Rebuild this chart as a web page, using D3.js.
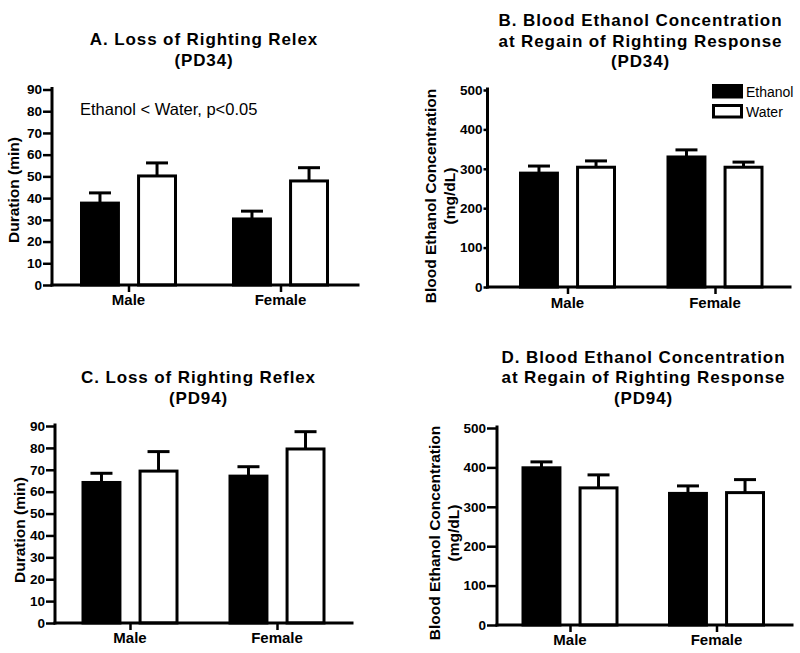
<!DOCTYPE html>
<html>
<head>
<meta charset="utf-8">
<script src="https://cdn.jsdelivr.net/npm/d3@7"></script>
<style>
  html, body { margin: 0; padding: 0; background: #fff; }
  svg { display: block; font-family: "Liberation Sans", Arial, sans-serif; }
</style>
</head>
<body>
<svg id="chart" width="800" height="653"></svg>
<script>
// ---------------- data ----------------
const categories = ["Male", "Female"];
const seriesNames = ["Ethanol", "Water"];

const durationTicks = [0, 10, 20, 30, 40, 50, 60, 70, 80, 90];
const becTicks = [0, 100, 200, 300, 400, 500];

// Panel A: Loss of righting reflex, PD34 (min)
const aEthanolMean = [37.7, 30.4];
const aEthanolSem  = [4.7, 3.6];
const aWaterMean   = [50.2, 47.9];
const aWaterSem    = [6.0, 6.1];

// Panel B: BEC at regain, PD34 (mg/dL)
const bEthanolMean = [289, 330];
const bEthanolSem  = [18, 18];
const bWaterMean   = [304, 304];
const bWaterSem    = [16, 13];

// Panel C: Loss of righting reflex, PD94 (min)
const cEthanolMean = [64.2, 67.1];
const cEthanolSem  = [4.2, 4.3];
const cWaterMean   = [69.4, 79.5];
const cWaterSem    = [8.9, 7.9];

// Panel D: BEC at regain, PD94 (mg/dL)
const dEthanolMean = [399, 334];
const dEthanolSem  = [15, 19];
const dWaterMean   = [348, 336];
const dWaterSem    = [33, 33];

const panelTitles = {
  A: ["A. Loss of Righting Relex", "(PD34)"],
  B: ["B. Blood Ethanol Concentration", "at Regain of Righting Response", "(PD34)"],
  C: ["C. Loss of Righting Reflex", "(PD94)"],
  D: ["D. Blood Ethanol Concentration", "at Regain of Righting Response", "(PD94)"]
};
const durationLabel = ["Duration (min)"];
const becLabel = ["Blood Ethanol Concentration", "(mg/dL)"];
const annotationA = "Ethanol < Water, p<0.05";

// ---------------- layout ----------------
const panels = [
  { id: "A", eth: aEthanolMean, ethSem: aEthanolSem, wat: aWaterMean, watSem: aWaterSem,
    ticks: durationTicks, ylab: durationLabel, tick: 9,
    left: 52, right: 358, top: 89.5, bottom: 285, centers: [128.5, 280.5],
    titleX: 204, titleY: [45, 66], ylabX: [19], ylabY: 190, xlabY: 305 },
  { id: "B", eth: bEthanolMean, ethSem: bEthanolSem, wat: bWaterMean, watSem: bWaterSem,
    ticks: becTicks, ylab: becLabel, tick: 4,
    left: 487.5, right: 790, top: 90, bottom: 287, centers: [567.5, 715],
    titleX: 640.5, titleY: [26, 46.5, 66.5], ylabX: [436, 455], ylabY: 196, xlabY: 308, legend: true },
  { id: "C", eth: cEthanolMean, ethSem: cEthanolSem, wat: cWaterMean, watSem: cWaterSem,
    ticks: durationTicks, ylab: durationLabel, tick: 9,
    left: 55, right: 352, top: 426, bottom: 623, centers: [130, 277],
    titleX: 198.5, titleY: [383, 404], ylabX: [25], ylabY: 530, xlabY: 643 },
  { id: "D", eth: dEthanolMean, ethSem: dEthanolSem, wat: dWaterMean, watSem: dWaterSem,
    ticks: becTicks, ylab: becLabel, tick: 10,
    left: 497, right: 792, top: 428, bottom: 625, centers: [570, 716.5],
    titleX: 643.5, titleY: [362.5, 383, 404], ylabX: [440, 459], ylabY: 533, xlabY: 645 }
];

const svg = d3.select("#chart");
const LW = 3;

panels.forEach(p => {
  const g = svg.append("g").attr("class", "panel-" + p.id);

  const y = d3.scaleLinear()
    .domain([0, d3.max(p.ticks)])
    .range([p.bottom, p.top]);

  const x0 = d3.scalePoint().domain(categories).range(p.centers);
  const x1 = d3.scaleBand().domain(seriesNames).range([-48.5, 48.5]).paddingInner(0.3);

  const rows = [];
  categories.forEach((c, i) => {
    rows.push({ cat: c, s: "Ethanol", v: p.eth[i], e: p.ethSem[i] });
    rows.push({ cat: c, s: "Water", v: p.wat[i], e: p.watSem[i] });
  });

  const bw = x1.bandwidth();
  const bars = g.append("g").selectAll("g").data(rows).join("g");

  bars.append("rect")
    .attr("x", d => x0(d.cat) + x1(d.s) + 1.5)
    .attr("y", d => y(d.v))
    .attr("width", bw - 3)
    .attr("height", d => y(0) - y(d.v))
    .attr("fill", d => d.s === "Ethanol" ? "#000" : "#fff")
    .attr("stroke", "#000")
    .attr("stroke-width", LW);

  bars.append("line")
    .attr("x1", d => x0(d.cat) + x1(d.s) + bw / 2)
    .attr("x2", d => x0(d.cat) + x1(d.s) + bw / 2)
    .attr("y1", d => y(d.v))
    .attr("y2", d => y(d.v + d.e))
    .attr("stroke", "#000").attr("stroke-width", LW);
  bars.append("line")
    .attr("x1", d => x0(d.cat) + x1(d.s) + bw / 2 - 11)
    .attr("x2", d => x0(d.cat) + x1(d.s) + bw / 2 + 11)
    .attr("y1", d => y(d.v + d.e))
    .attr("y2", d => y(d.v + d.e))
    .attr("stroke", "#000").attr("stroke-width", LW);

  // y axis
  const yAxis = d3.axisLeft(y).tickValues(p.ticks).tickSize(p.tick).tickSizeOuter(0).tickPadding(1)
    .tickFormat(d3.format("d"));
  const gy = g.append("g").attr("transform", `translate(${p.left},0)`).call(yAxis);
  gy.select(".domain").remove();
  gy.selectAll(".tick line").attr("stroke", "#000").attr("stroke-width", 2.5);
  gy.selectAll(".tick text")
    .attr("fill", "#000")
    .style("font-size", "13.5px").style("font-weight", "bold");

  // x axis ticks
  const xAxis = d3.axisBottom(x0).tickSize(7).tickSizeOuter(0).tickFormat("");
  const gx = g.append("g").attr("transform", `translate(0,${p.bottom})`).call(xAxis);
  gx.select(".domain").remove();
  gx.selectAll(".tick line").attr("stroke", "#000").attr("stroke-width", 2.5);

  // axis lines
  g.append("line")
    .attr("x1", p.left).attr("x2", p.left)
    .attr("y1", p.bottom).attr("y2", p.top - 1)
    .attr("stroke", "#000").attr("stroke-width", LW).attr("stroke-linecap", "square");
  g.append("line")
    .attr("x1", p.left).attr("x2", p.right)
    .attr("y1", p.bottom).attr("y2", p.bottom)
    .attr("stroke", "#000").attr("stroke-width", LW).attr("stroke-linecap", "square");

  // x category labels
  g.append("g").selectAll("text").data(categories).join("text")
    .attr("x", d => x0(d))
    .attr("y", p.xlabY)
    .attr("text-anchor", "middle")
    .style("font-size", "15px").style("font-weight", "bold")
    .text(d => d);

  // title
  g.append("g").selectAll("text").data(panelTitles[p.id]).join("text")
    .attr("x", p.titleX)
    .attr("y", (d, i) => p.titleY[i])
    .attr("text-anchor", "middle")
    .style("font-size", "17px").style("font-weight", "bold")
    .style("letter-spacing", "0.9px")
    .text(d => d);

  // y label
  p.ylab.forEach((t, i) => {
    g.append("text")
      .attr("transform", `translate(${p.ylabX[i]},${p.ylabY}) rotate(-90)`)
      .attr("text-anchor", "middle")
      .style("font-size", "15.5px").style("font-weight", "bold")
      .text(t);
  });

  // legend
  if (p.legend) {
    const lg = g.append("g");
    seriesNames.forEach((s, i) => {
      lg.append("rect")
        .attr("x", 713.5).attr("y", 85.5 + i * 20)
        .attr("width", 28).attr("height", 11.5)
        .attr("fill", s === "Ethanol" ? "#000" : "#fff")
        .attr("stroke", "#000").attr("stroke-width", LW);
      lg.append("text")
        .attr("x", 746).attr("y", 96.5 + i * 20)
        .style("font-size", "14px")
        .text(s);
    });
  }
});

// annotation in panel A
svg.append("text")
  .attr("x", 80).attr("y", 115)
  .style("font-size", "16.5px")
  .text(annotationA);
</script>
</body>
</html>
